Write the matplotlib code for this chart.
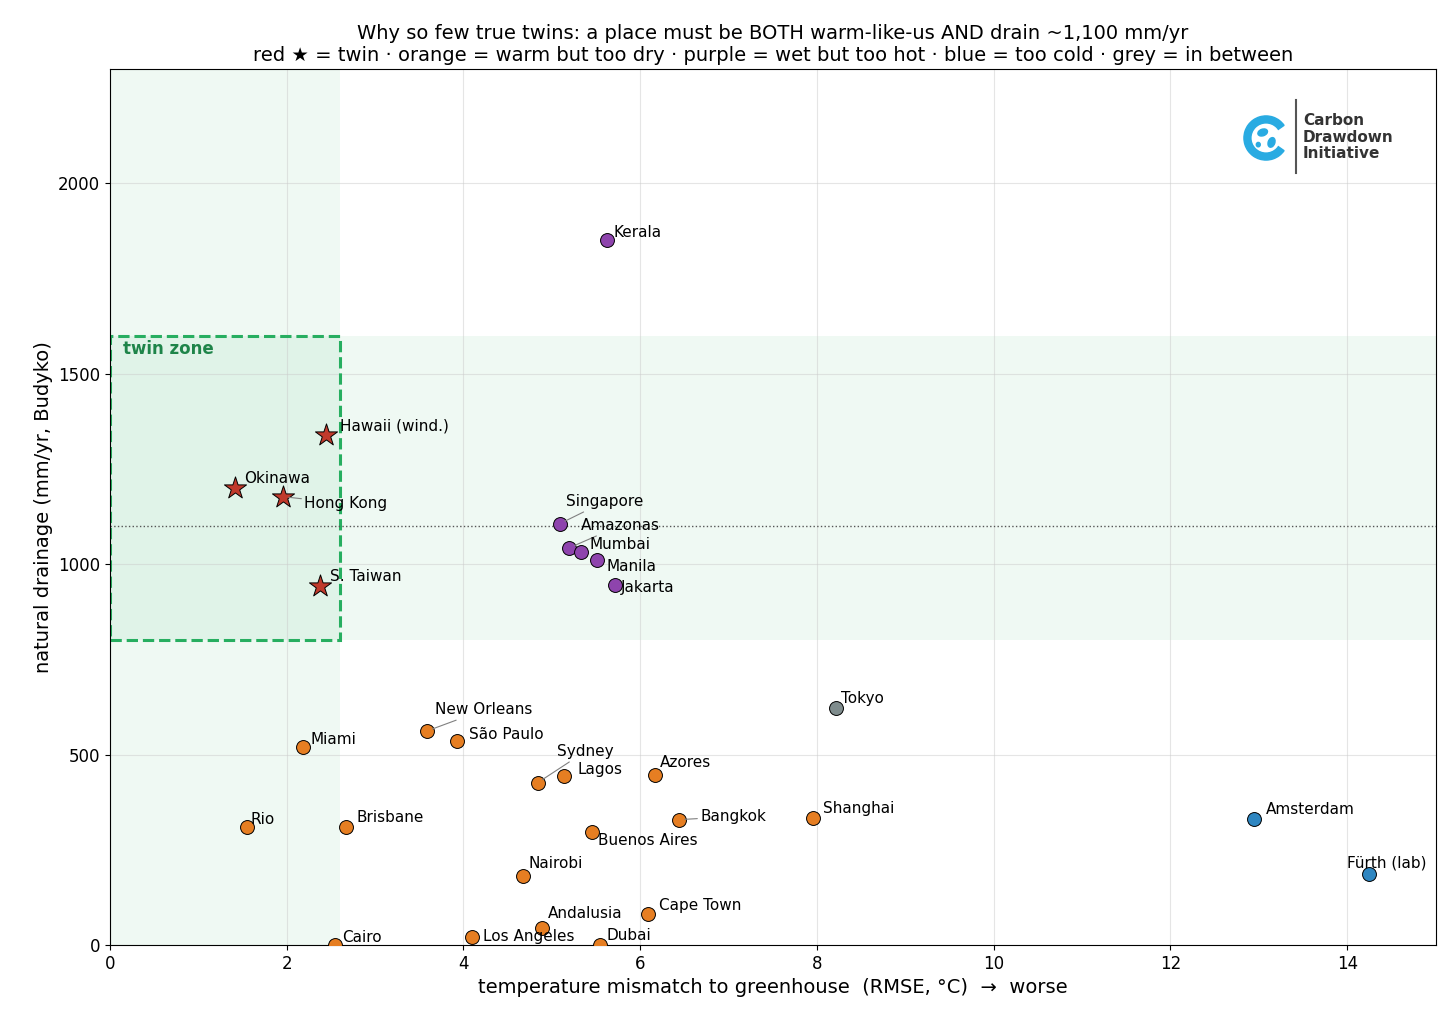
import numpy as np
import matplotlib.pyplot as plt
from matplotlib.patches import Rectangle, Wedge, Circle, Ellipse

# data
names = ['Hawaii (wind.)', 'Okinawa', 'Hong Kong', 'S. Taiwan',
         'Kerala', 'Singapore', 'Amazonas', 'Mumbai', 'Manila', 'Jakarta',
         'Tokyo',
         'Miami', 'Rio', 'Brisbane', 'New Orleans', 'São Paulo', 'Sydney',
         'Lagos', 'Azores', 'Bangkok', 'Shanghai', 'Buenos Aires', 'Nairobi',
         'Cape Town', 'Andalusia', 'Los Angeles', 'Cairo', 'Dubai',
         'Amsterdam', 'Fürth (lab)']
rmse = [2.45, 1.41, 1.96, 2.38,
        5.62, 5.09, 5.20, 5.33, 5.51, 5.71,
        8.21,
        2.19, 1.55, 2.67, 3.59, 3.93, 4.84,
        5.14, 6.17, 6.44, 7.95, 5.45, 4.67,
        6.09, 4.89, 4.10, 2.55, 5.54,
        12.95, 14.25]
drainage = [1338, 1201, 1177, 943,
            1850, 1106, 1043, 1033, 1012, 946,
            623,
            520, 310, 310, 562, 536, 426,
            444, 447, 329, 334, 297, 181,
            81, 45, 21, 0, 0,
            331, 187]
group = ['twin'] * 4 + ['wet'] * 6 + ['mid'] + ['dry'] * 17 + ['cold'] * 2

# label placement (offset in pixels, leader line or not)
label_off = {
    'Hawaii (wind.)': (14, 9, False), 'Okinawa': (10, 9, False),
    'Hong Kong': (21, -7, True), 'S. Taiwan': (10, 9, False),
    'Kerala': (7, 8, False), 'Singapore': (6, 22, True),
    'Amazonas': (11, 22, True), 'Mumbai': (9, 7, False),
    'Manila': (10, -7, False), 'Jakarta': (6, -3, False),
    'Tokyo': (5, 9, False), 'Miami': (7, 7, False), 'Rio': (4, 7, False),
    'Brisbane': (11, 9, False), 'New Orleans': (8, 21, True),
    'São Paulo': (12, 6, False), 'Sydney': (19, 31, True),
    'Lagos': (13, 6, False), 'Azores': (5, 12, False),
    'Bangkok': (21, 3, True), 'Shanghai': (10, 9, False),
    'Buenos Aires': (6, -9, False), 'Nairobi': (6, 13, False),
    'Cape Town': (11, 9, False), 'Andalusia': (6, 14, False),
    'Los Angeles': (11, 0, False), 'Cairo': (7, 7, False),
    'Dubai': (7, 9, False), 'Amsterdam': (11, 9, False),
    'Fürth (lab)': (-22, 11, False),
}

colors = {'twin': '#c0392b', 'dry': '#e67e22', 'wet': '#8e44ad',
          'cold': '#2e86c1', 'mid': '#7f8c8d'}

fig = plt.figure(figsize=(14.56, 10.26), dpi=100)
ax = fig.add_axes([0.0755, 0.079, 0.9105, 0.8538])

green = '#27ae60'
ax.axvspan(0, 2.6, color=green, alpha=0.07, lw=0, zorder=0)
ax.axhspan(800, 1600, color=green, alpha=0.07, lw=0, zorder=0)
ax.add_patch(Rectangle((0, 800), 2.6, 800, fill=False, ls='--', lw=2.2,
                       edgecolor=green, zorder=1))
ax.axhline(1100, color='#555555', ls=':', lw=1, zorder=1)
ax.text(0.15, 1588, 'twin zone', color='#1e8449', fontweight='bold',
        fontsize=12, va='top')

for g in ['dry', 'mid', 'cold', 'wet', 'twin']:
    idx = [i for i, k in enumerate(group) if k == g]
    xs = [rmse[i] for i in idx]
    ys = [drainage[i] for i in idx]
    if g == 'twin':
        ax.scatter(xs, ys, marker='*', s=280, c=colors[g], edgecolors='black',
                   linewidths=0.7, zorder=4)
    else:
        ax.scatter(xs, ys, s=100, c=colors[g], edgecolors='black',
                   linewidths=0.7, zorder=3)

for n, x, y in zip(names, rmse, drainage):
    dx, dy, line = label_off[n]
    ap = None
    if line:
        ap = dict(arrowstyle='-', color='grey', lw=0.8, shrinkA=0, shrinkB=4)
    ax.annotate(n, (x, y), xytext=(dx, dy), textcoords='offset pixels',
                fontsize=11, va='center', ha='left', arrowprops=ap, zorder=5)

ax.set_xlim(0, 15)
ax.set_ylim(0, 2300)
ax.set_yticks([0, 500, 1000, 1500, 2000])
ax.grid(True, color='#cccccc', alpha=0.5, lw=0.8)
ax.set_axisbelow(True)
ax.tick_params(labelsize=12)
ax.set_xlabel('temperature mismatch to greenhouse  (RMSE, °C)  →  worse', fontsize=14)
ax.set_ylabel('natural drainage (mm/yr, Budyko)', fontsize=14)
ax.set_title('Why so few true twins: a place must be BOTH warm-like-us AND drain ~1,100 mm/yr\n'
             'red ★ = twin · orange = warm but too dry · purple = wet but too hot · '
             'blue = too cold · grey = in between', fontsize=14)

# logo
lax = fig.add_axes([1236 / 1456, 1 - 170 / 1026, 60 / 1456, 64 / 1026])
lax.set_xlim(-1.35, 1.35)
lax.set_ylim(-1.45, 1.45)
lax.set_aspect('equal')
lax.axis('off')
blue = '#29abe2'
lax.add_patch(Wedge((0, 0), 1.0, 35, 325, color=blue))
lax.add_patch(Circle((0, 0), 0.62, color='white'))
lax.add_patch(Ellipse((-0.15, 0.25), 0.45, 0.3, angle=20, color=blue))
lax.add_patch(Ellipse((0.25, -0.2), 0.3, 0.45, angle=-20, color=blue))
lax.add_patch(Ellipse((-0.35, -0.3), 0.18, 0.2, color=blue))
fig.add_artist(plt.Line2D([1296 / 1456, 1296 / 1456], [1 - 100 / 1026, 1 - 173 / 1026],
                          color='#555555', lw=1.5))
fig.text(1303 / 1456, 1 - 137 / 1026, 'Carbon\nDrawdown\nInitiative', fontsize=11,
         fontweight='bold', color='#333333', va='center', ha='left', linespacing=1.1)

fig.savefig('out.png', dpi=100)
